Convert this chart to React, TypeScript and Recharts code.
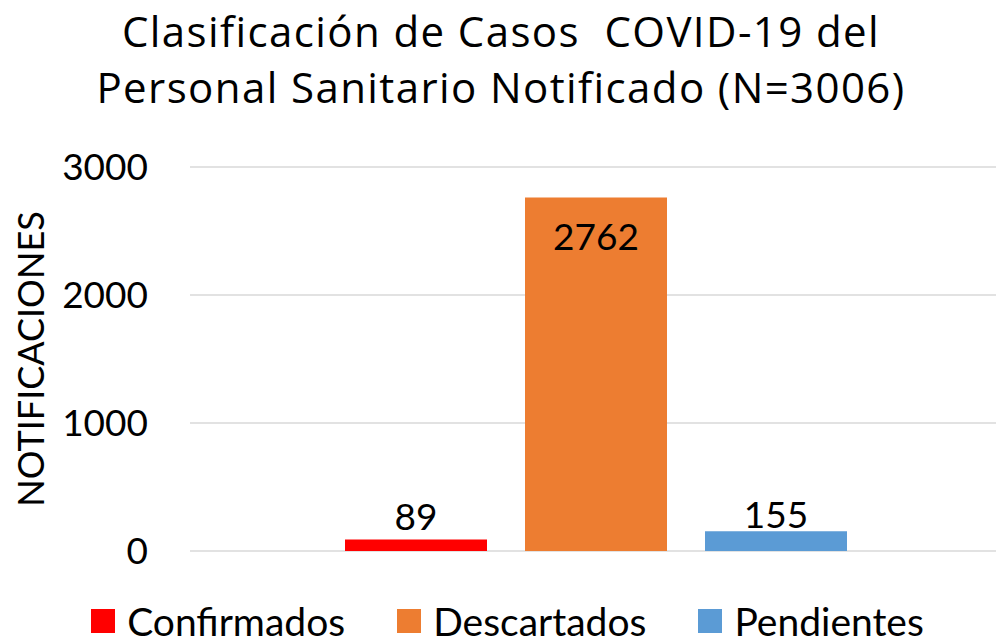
import { BarChart, Bar, XAxis, YAxis, CartesianGrid, Legend, LabelList } from 'recharts';

const categories = ['Personal Sanitario'];
const confirmados = [89];
const descartados = [2762];
const pendientes = [155];
const yTicks = [0, 1000, 2000, 3000];

const series = [
  { key: 'Confirmados', color: '#FF0000' },
  { key: 'Descartados', color: '#ED7D31' },
  { key: 'Pendientes', color: '#5B9BD5' },
];

const data = categories.map((name, i) => ({
  name,
  Confirmados: confirmados[i],
  Descartados: descartados[i],
  Pendientes: pendientes[i],
}));

const FONT = 'Lato, "Open Sans", sans-serif';
const TITLE_FONT = '"Open Sans", Lato, sans-serif';

function LegendContent() {
  return (
    <div style={{ display: 'flex', justifyContent: 'center', gap: 52, fontFamily: FONT, fontSize: 39, color: '#000' }}>
      {series.map((s) => (
        <div key={s.key} style={{ display: 'flex', alignItems: 'center', height: 40 }}>
          <span style={{ width: 24, height: 24, background: s.color, marginRight: 12, display: 'inline-block' }} />
          <span style={{ lineHeight: '40px' }}>{s.key}</span>
        </div>
      ))}
    </div>
  );
}

export default function App() {
  return (
    <div style={{ position: 'absolute', left: 0, top: 0, width: 996, height: 641, overflow: 'hidden', background: '#fff' }}>
      <div
        style={{
          position: 'absolute',
          top: 3,
          left: 0,
          width: 1002,
          textAlign: 'center',
          fontFamily: TITLE_FONT,
          fontSize: 42,
          letterSpacing: 1.4,
          lineHeight: '56px',
          color: '#000',
          whiteSpace: 'pre',
          zIndex: 2,
        }}
      >
        {'Clasificación de Casos  COVID-19 del\nPersonal Sanitario Notificado (N=3006)'}
      </div>
      <BarChart
        width={1002}
        height={641}
        data={data}
        margin={{ top: 167, right: 0, left: 0, bottom: 90 }}
        barSize={142}
        barGap={38}
      >
        <CartesianGrid vertical={false} stroke="#D9D9D9" strokeWidth={1.5} />
        <XAxis dataKey="name" hide />
        <YAxis
          width={190}
          domain={[0, 3000]}
          ticks={yTicks}
          axisLine={false}
          tickLine={false}
          tickSize={0}
          tickMargin={42}
          tick={{ fill: '#000', fontSize: 37, fontFamily: FONT }}
          label={{
            value: 'NOTIFICACIONES',
            angle: -90,
            position: 'insideLeft',
            offset: 31,
            style: { textAnchor: 'middle', fill: '#000', fontSize: 36, fontFamily: FONT },
          }}
        />
        <Legend verticalAlign="middle" align="center" content={<LegendContent />} wrapperStyle={{ top: 601, left: 0, width: 1015 }} />
        {series.map((s) => (
          <Bar key={s.key} dataKey={s.key} fill={s.color} isAnimationActive={false}>
            <LabelList
              dataKey={s.key}
              position={s.key === 'Descartados' ? 'insideTop' : 'top'}
              offset={s.key === 'Descartados' ? 26 : s.key === 'Pendientes' ? 3 : 10}
              fill="#000"
              fontSize={37}
              fontFamily={FONT}
            />
          </Bar>
        ))}
      </BarChart>
    </div>
  );
}
